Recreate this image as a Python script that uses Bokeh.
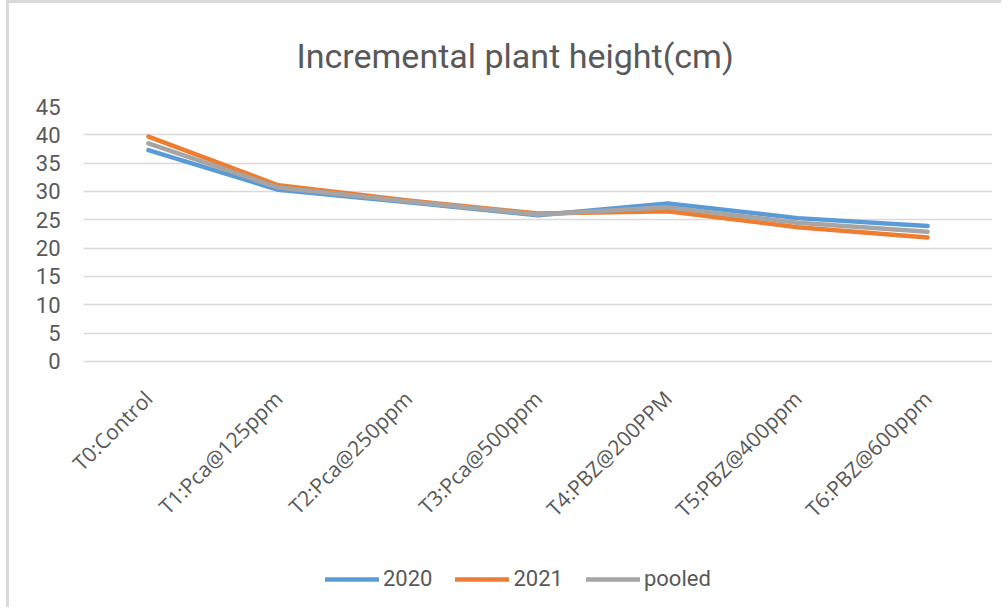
import math
from bokeh.plotting import figure
from bokeh.models import (FixedTicker, Legend, LegendItem, Title, ColumnDataSource,
                          Range1d, BoxAnnotation)
from bokeh.embed import file_html
from bokeh.resources import INLINE

categories = ["T0:Control", "T1:Pca@125ppm", "T2:Pca@250ppm", "T3:Pca@500ppm",
              "T4:PBZ@200PPM", "T5:PBZ@400ppm", "T6:PBZ@600ppm"]
y2020 = [37.3, 30.3, 28.1, 25.8, 27.9, 25.3, 23.9]
y2021 = [39.7, 31.1, 28.4, 26.1, 26.5, 23.7, 21.9]
pooled = [38.5, 30.7, 28.25, 25.95, 27.2, 24.5, 22.9]
y_ticks = [0, 5, 10, 15, 20, 25, 30, 35, 40, 45]

TEXT = "#595959"
GRID = "#d9d9d9"
FONT = "Roboto"

xpos = list(range(len(categories)))
n = len(categories)
lpad = 0.154  # extra room on the left so rotated labels are not clipped

p = figure(x_range=Range1d(-0.5 - lpad, n - 0.5), y_range=Range1d(-42.71, 45),
           width=995, height=607,
           output_backend="svg", toolbar_location=None,
           min_border_left=54, min_border_right=12, min_border_top=101,
           min_border_bottom=7)
p.styles = {"margin-left": "6px", "margin-top": "0px",
            "border-left": "3px solid #d9d9d9", "border-top": "3px solid #d9d9d9"}
p.outline_line_color = None
p.background_fill_color = "white"
p.border_fill_color = "white"

t = Title(text="Incremental plant height(cm)", align="left", offset=233,
          text_font=FONT, text_font_size="34px",
          text_font_style="normal", text_color=TEXT, standoff=61)
p.add_layout(t, "above")

src = ColumnDataSource(dict(x=xpos, a=y2020, b=y2021, c=pooled))
r1 = p.line("x", "a", source=src, line_color="#5b9bd5", line_width=4.5,
            line_cap="round", line_join="round")
r2 = p.line("x", "b", source=src, line_color="#ed7d31", line_width=4.5,
            line_cap="round", line_join="round")
r3 = p.line("x", "c", source=src, line_color="#a5a5a5", line_width=4.5,
            line_cap="round", line_join="round")

p.yaxis.ticker = FixedTicker(ticks=y_ticks)
p.yaxis.axis_line_color = None
p.yaxis.major_tick_line_color = None
p.yaxis.minor_tick_line_color = None
p.yaxis.major_tick_out = 0
p.yaxis.major_label_standoff = 3
p.yaxis.major_label_text_font = FONT
p.yaxis.major_label_text_font_size = "22px"
p.yaxis.major_label_text_color = TEXT

p.xaxis.fixed_location = 0
p.xaxis.ticker = FixedTicker(ticks=xpos)
p.xaxis.major_label_overrides = {i: c for i, c in zip(xpos, categories)}
p.xaxis.axis_line_color = None
p.xaxis.major_tick_line_color = None
p.xaxis.minor_tick_line_color = None
p.xaxis.major_tick_out = 0
p.xaxis.major_label_orientation = math.pi / 4
p.xaxis.major_label_standoff = 33
p.xaxis.major_label_text_font = "Open Sans"
p.xaxis.major_label_text_font_size = "21px"
p.xaxis.major_label_text_color = TEXT

p.xgrid.grid_line_color = None
p.ygrid.grid_line_color = GRID
p.ygrid.grid_line_width = 1.5

# gridlines start at the left edge of the first category band
mask = BoxAnnotation(right=-0.5, fill_color="white", fill_alpha=1,
                     line_color=None, level="underlay")
p.add_layout(mask)

legend = Legend(items=[LegendItem(label="2020", renderers=[r1]),
                       LegendItem(label="2021", renderers=[r2]),
                       LegendItem(label="pooled", renderers=[r3])],
                orientation="horizontal", location=(262, 12),
                glyph_width=54, glyph_height=20, label_standoff=4, spacing=23,
                padding=0, margin=0, border_line_color=None,
                background_fill_alpha=0,
                label_text_font=FONT,
                label_text_font_size="22px", label_text_color=TEXT)
p.add_layout(legend, "center")

open("out.html", "w").write(file_html(p, INLINE))
